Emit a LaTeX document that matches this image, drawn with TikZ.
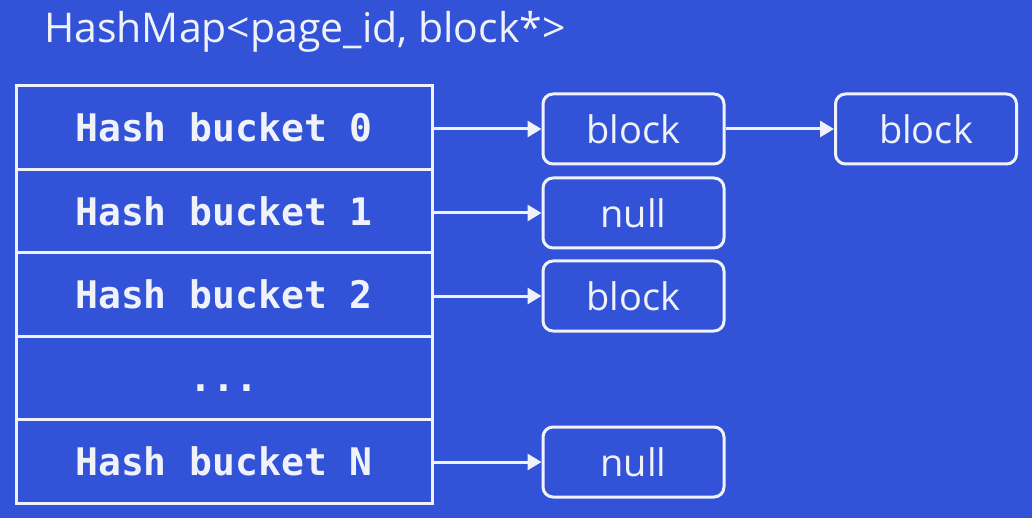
\documentclass[tikz,border=0pt]{standalone}
\usepackage{fontspec}
\setmainfont{Open Sans}
\newfontfamily\bucketfont{DejaVu Sans Mono}
\usetikzlibrary{arrows.meta}
\definecolor{slideblue}{RGB}{50,82,216}
\definecolor{chalk}{RGB}{240,242,250}
\tikzstyle{bucket}=[rectangle,draw=chalk,line width=3,minimum width=416,minimum height=83.4,inner sep=0pt,text=chalk,font=\bucketfont\bfseries\fontsize{38}{42}\selectfont]
\tikzstyle{block}=[rectangle,rounded corners=10,draw=chalk,line width=3,minimum width=181,minimum height=70,inner sep=0pt,text=chalk,font=\fontsize{38}{42}\selectfont]
\tikzstyle{title}=[anchor=base west,inner sep=0pt,text=chalk,font=\fontsize{41}{45}\selectfont]
\tikzstyle{ptr}=[-{Triangle[length=14,width=16]},draw=chalk,fill=chalk,line width=3]
\pgfdeclarelayer{bglayer}
\pgfdeclarelayer{edgelayer}
\pgfdeclarelayer{nodelayer}
\pgfsetlayers{bglayer,edgelayer,nodelayer,main}
\begin{document}
\begin{tikzpicture}[x=1pt,y=-1pt]
	\begin{pgfonlayer}{bglayer}
		\fill [slideblue] (0,0) rectangle (1032,518);
	\end{pgfonlayer}
	\useasboundingbox (0,0) rectangle (1032,518);
	\begin{pgfonlayer}{nodelayer}
		\node [style=title] (T) at (44, 43) {HashMap<page\_id, block*>};
		\node [style=bucket] (r0) at (224, 127.7) {Hash bucket 0};
		\node [style=bucket] (r1) at (224, 211.1) {Hash bucket 1};
		\node [style=bucket] (r2) at (224, 294.5) {Hash bucket 2};
		\node [style=bucket] (r3) at (224, 377.9) {\vphantom{H}...};
		\node [style=bucket] (rN) at (224, 461.3) {Hash bucket N};
		\node [style=block] (b0) at (633.5, 129) {block};
		\node [style=block] (b1) at (633.5, 213) {null};
		\node [style=block] (b2) at (633.5, 296) {block};
		\node [style=block] (bN) at (633.5, 462) {null};
		\node [style=block] (c0) at (926, 129) {block};
	\end{pgfonlayer}
	\begin{pgfonlayer}{edgelayer}
		\draw [style=ptr] (b0 -| r0.east) to (b0);
		\draw [style=ptr] (b1 -| r1.east) to (b1);
		\draw [style=ptr] (b2 -| r2.east) to (b2);
		\draw [style=ptr] (bN -| rN.east) to (bN);
		\draw [style=ptr] (b0) to (c0);
	\end{pgfonlayer}
\end{tikzpicture}
\end{document}
